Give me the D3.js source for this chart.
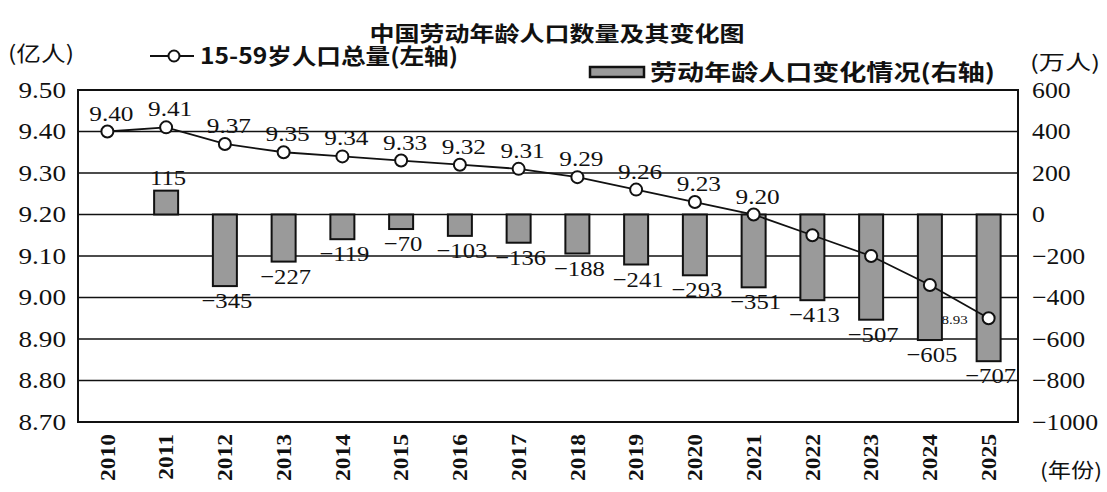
<!DOCTYPE html>
<html>
<head>
<meta charset="utf-8">
<script src="https://cdn.jsdelivr.net/npm/d3@7"></script>
<style>
  body { margin: 0; background: #fff; }
  svg text { font-family: "Liberation Serif", "DejaVu Serif", "Noto Sans CJK SC", serif; }
  .cjk { font-family: "Noto Sans CJK SC", sans-serif; }
</style>
</head>
<body>
<svg width="1107" height="492"></svg>
<script>
var years = ["2010","2011","2012","2013","2014","2015","2016","2017","2018","2019","2020","2021","2022","2023","2024","2025"];
var total = [9.40, 9.41, 9.37, 9.35, 9.34, 9.33, 9.32, 9.31, 9.29, 9.26, 9.23, 9.20, 9.15, 9.10, 9.03, 8.95];
var totalLabels = ["9.40","9.41","9.37","9.35","9.34","9.33","9.32","9.31","9.29","9.26","9.23","9.20","","","","8.93"];
var change = [null, 115, -345, -227, -119, -70, -103, -136, -188, -241, -293, -351, -413, -507, -605, -707];
var leftTicks = [8.70, 8.80, 8.90, 9.00, 9.10, 9.20, 9.30, 9.40, 9.50];
var rightTicks = [-1000, -800, -600, -400, -200, 0, 200, 400, 600];

var svg = d3.select("svg");
var margin = { top: 90, right: 89, bottom: 70, left: 78 };
var width = 1107 - margin.left - margin.right;
var height = 492 - margin.top - margin.bottom;

// the scan is a bit wider than tall, so stretch texts a little
function stretch(sel, f) {
  sel.each(function() {
    var w = this.getComputedTextLength();
    d3.select(this).attr("textLength", w * f).attr("lengthAdjust", "spacingAndGlyphs");
  });
}
function fitTo(sel, w) {
  sel.attr("textLength", w).attr("lengthAdjust", "spacingAndGlyphs");
}

var g = svg.append("g")
    .attr("transform", "translate(" + margin.left + "," + margin.top + ")");

var x = d3.scaleBand().domain(years).range([0, width]);
var yL = d3.scaleLinear().domain([8.70, 9.50]).range([height, 0]);
var yR = d3.scaleLinear().domain([-1000, 600]).range([height, 0]);

var data = years.map(function(d, i) {
  return { year: d, total: total[i], label: totalLabels[i], change: change[i] };
});

// grid lines
g.selectAll(".grid")
    .data(leftTicks)
    .enter().append("line")
    .attr("x1", 0).attr("x2", width)
    .attr("y1", function(d) { return yL(d); })
    .attr("y2", function(d) { return yL(d); })
    .attr("stroke", "#111")
    .attr("stroke-width", 1.6);

// frame
g.append("rect")
    .attr("width", width).attr("height", height)
    .attr("fill", "none").attr("stroke", "#111").attr("stroke-width", 2);

// left axis
var axL = g.append("g")
    .call(d3.axisLeft(yL).tickValues(leftTicks).tickSize(0).tickPadding(12).tickFormat(d3.format(".2f")));
axL.select(".domain").remove();
axL.selectAll("text").attr("font-size", 23).attr("fill", "#111")
    .style("font-family", "Liberation Serif, serif")
    .call(stretch, 1.18);

// right axis
var axR = g.append("g")
    .attr("transform", "translate(" + width + ",0)")
    .call(d3.axisRight(yR).tickValues(rightTicks).tickSize(0).tickPadding(14).tickFormat(function(d) { return d < 0 ? "\u2212" + Math.abs(d) : d; }));
axR.select(".domain").remove();
axR.selectAll("text").attr("font-size", 23).attr("fill", "#111")
    .style("font-family", "Liberation Serif, serif")
    .call(stretch, 1.12);

// x axis labels (rotated)
var axX = g.append("g")
    .attr("transform", "translate(0," + height + ")")
    .call(d3.axisBottom(x).tickSize(0).tickPadding(0));
axX.select(".domain").remove();
axX.selectAll("text")
    .attr("transform", "rotate(-90)")
    .attr("x", -12).attr("y", 0).attr("dy", "0.35em")
    .attr("text-anchor", "end")
    .attr("font-size", 21).attr("font-weight", "bold").attr("fill", "#111")
    .style("font-family", "Liberation Serif, serif")
    .call(stretch, 1.12);

// bars
var barW = 24;
g.selectAll(".bar")
    .data(data.filter(function(d) { return d.change !== null; }))
    .enter().append("rect")
    .attr("x", function(d) { return x(d.year) + x.bandwidth() / 2 - barW / 2; })
    .attr("y", function(d) { return yR(Math.max(0, d.change)); })
    .attr("width", barW)
    .attr("height", function(d) { return Math.abs(yR(d.change) - yR(0)); })
    .attr("fill", "#9a9a9a")
    .attr("stroke", "#111")
    .attr("stroke-width", 2);

// bar labels
g.selectAll(".barlabel")
    .data(data.filter(function(d) { return d.change !== null; }))
    .enter().append("text")
    .attr("x", function(d) { return x(d.year) + x.bandwidth() / 2 + 2; })
    .attr("y", function(d) { return d.change > 0 ? yR(d.change) - 6 : yR(d.change) + 22; })
    .attr("text-anchor", "middle")
    .attr("font-size", 22).attr("fill", "#111")
    .text(function(d) { return d.change < 0 ? "\u2212" + Math.abs(d.change) : d.change; })
    .call(stretch, 1.12);

// line
var line = d3.line()
    .x(function(d) { return x(d.year) + x.bandwidth() / 2; })
    .y(function(d) { return yL(d.total); });

g.append("path")
    .datum(data)
    .attr("fill", "none")
    .attr("stroke", "#111")
    .attr("stroke-width", 1.8)
    .attr("d", line);

g.selectAll(".pt")
    .data(data)
    .enter().append("circle")
    .attr("cx", function(d) { return x(d.year) + x.bandwidth() / 2; })
    .attr("cy", function(d) { return yL(d.total); })
    .attr("r", 6)
    .attr("fill", "#fff")
    .attr("stroke", "#111")
    .attr("stroke-width", 2);

g.selectAll(".ptlabel")
    .data(data.filter(function(d) { return d.label !== ""; }))
    .enter().append("text")
    .attr("x", function(d) { return d.year === "2025" ? x(d.year) + x.bandwidth() / 2 - 34 : x(d.year) + x.bandwidth() / 2 + 4; })
    .attr("y", function(d) { return d.year === "2025" ? yL(d.total) + 6 : yL(d.total) - 11; })
    .attr("text-anchor", "middle")
    .attr("font-size", function(d) { return d.year === "2025" ? 13 : 22; })
    .attr("fill", "#111")
    .text(function(d) { return d.label; })
    .call(stretch, 1.15);

// title
svg.append("text")
    .attr("class", "cjk")
    .attr("x", 557).attr("y", 41)
    .attr("text-anchor", "middle")
    .attr("font-size", 21).attr("font-weight", "bold").attr("fill", "#111")
    .text("中国劳动年龄人口数量及其变化图")
    .call(fitTo, 375);

// unit labels
svg.append("text").attr("class", "cjk")
    .attr("x", 8).attr("y", 61)
    .attr("font-size", 21).attr("fill", "#111")
    .text("(亿人)")
    .call(fitTo, 66);
svg.append("text").attr("class", "cjk")
    .attr("x", 1030).attr("y", 70)
    .attr("font-size", 20).attr("fill", "#111")
    .text("(万人)")
    .call(fitTo, 70);
svg.append("text").attr("class", "cjk")
    .attr("x", 1040).attr("y", 478)
    .attr("font-size", 20).attr("fill", "#111")
    .text("(年份)")
    .call(fitTo, 62);

// legend: line
var lg = svg.append("g").attr("transform", "translate(150,56)");
lg.append("line").attr("x1", 0).attr("x2", 44).attr("y1", 0).attr("y2", 0)
    .attr("stroke", "#111").attr("stroke-width", 2.2);
lg.append("circle").attr("cx", 24).attr("cy", 0).attr("r", 5.5)
    .attr("fill", "#fff").attr("stroke", "#111").attr("stroke-width", 2);
lg.append("text").attr("class", "cjk")
    .attr("x", 50).attr("y", 8)
    .attr("font-size", 22).attr("font-weight", "bold").attr("fill", "#111")
    .text("15-59岁人口总量(左轴)")
    .call(fitTo, 258);

// legend: bar
var lb = svg.append("g").attr("transform", "translate(590,72)");
lb.append("rect").attr("x", 0).attr("y", -5).attr("width", 54).attr("height", 10)
    .attr("fill", "#9a9a9a").attr("stroke", "#111").attr("stroke-width", 2.5);
lb.append("text").attr("class", "cjk")
    .attr("x", 60).attr("y", 8)
    .attr("font-size", 22).attr("font-weight", "bold").attr("fill", "#111")
    .text("劳动年龄人口变化情况(右轴)")
    .call(fitTo, 345);
</script>
</body>
</html>
